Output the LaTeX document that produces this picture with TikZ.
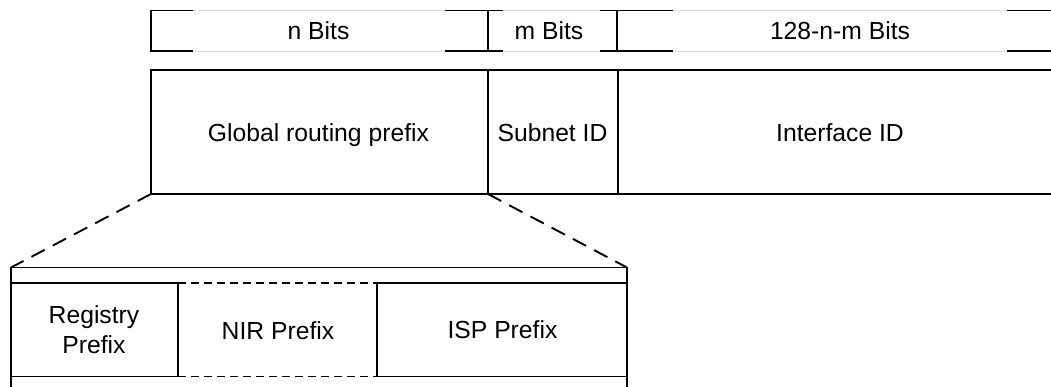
\documentclass[tikz,border=0pt]{standalone}
\usepackage{fontspec}
\setmainfont{Liberation Sans}
\begin{document}
\begin{tikzpicture}[x=1pt,y=-1pt,
  lbl/.style={font=\fontsize{24.7}{30}\selectfont, inner sep=0pt, align=center},
  solid/.style={draw=black, line width=1.9pt, line join=miter},
  faint/.style={draw=black!13, line width=0.8pt},
  longdash/.style={draw=black, line width=1.9pt, dash pattern=on 15pt off 9pt},
  shortdash/.style={draw=black, line width=1.9pt, dash pattern=on 8pt off 5pt}]
\useasboundingbox (0,0) rectangle (1051,387);

% ---- key coordinates
\coordinate (grpBL) at (151,194);
\coordinate (grpBR) at (488,194);
\coordinate (boxTL) at (11,267.5);
\coordinate (boxTR) at (627,267.5);

% ---- top bit-width bar
\draw[faint] (151,10.5) -- (1051,10.5);
\draw[faint] (151,51) -- (1051,51);
\draw[solid] (193,10.5) -- (151,10.5) -- (151,51) -- (193,51);
\draw[solid] (445,10.5) -- (503,10.5) (488,10.5) -- (488,51) (445,51) -- (503,51);
\draw[solid] (600,10.5) -- (673,10.5) (617,10.5) -- (617,51) (600,51) -- (673,51);
\draw[solid] (1007,10.5) -- (1051,10.5) (1007,51) -- (1051,51);
\node[lbl, anchor=base] (nbits) at (318.5,39.3) {n Bits};
\node[lbl, anchor=base] (mbits) at (549,39.3) {m Bits};
\node[lbl, anchor=base] (restbits) at (840,39.3) {128-n-m Bits};

% ---- main address bar
\draw[solid] (1051,70) -- (151,70) -- (grpBL) -- (1051,194);
\draw[solid] (488,70) -- (grpBR);
\draw[solid] (618,70) -- (618,194);
\node[lbl, anchor=base] (grp) at (318.5,141.3) {Global routing prefix};
\node[lbl, anchor=base] (subnet) at (552.5,141.3) {Subnet ID};
\node[lbl, anchor=base] (iface) at (840,141.3) {Interface ID};

% ---- zoom lines
\draw[longdash] (grpBL) -- (boxTL);
\draw[longdash] (grpBR) -- (boxTR);

% ---- expanded global routing prefix
\draw[solid] (11,387) -- (boxTL) -- (boxTR) -- (627,387);
\draw[solid] (11,283) -- (178,283) -- (178,376.5) -- (11,376.5);
\draw[solid] (627,283) -- (377,283) -- (377,376.5) -- (627,376.5);
\draw[shortdash] (178,283) -- (377,283);
\draw[shortdash] (178,376.5) -- (377,376.5);
\node[lbl] (registry) at (94,330) {Registry\\Prefix};
\node[lbl, anchor=base] (nir) at (278,339.3) {NIR Prefix};
\node[lbl, anchor=base] (isp) at (502.5,338.5) {ISP Prefix};
\end{tikzpicture}
\end{document}
